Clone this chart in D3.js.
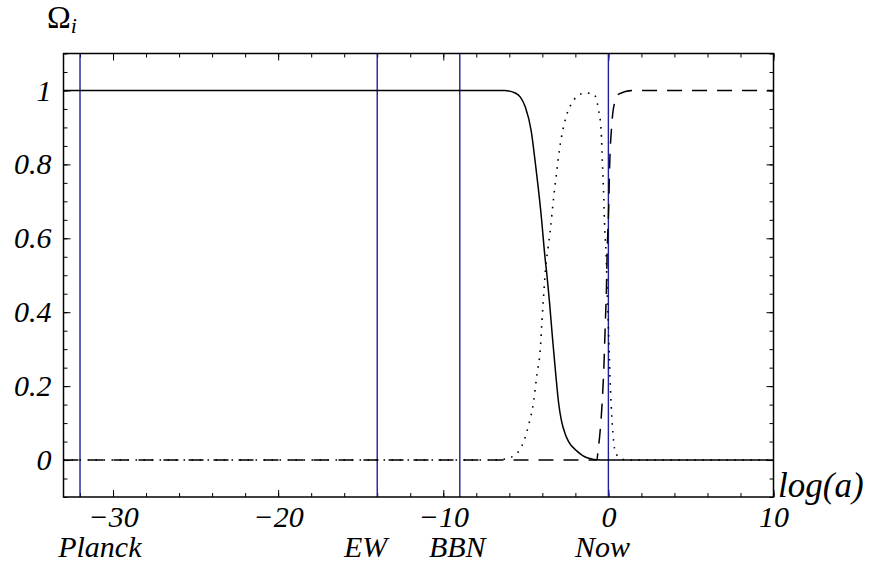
<!DOCTYPE html>
<html>
<head>
<meta charset="utf-8">
<script src="https://cdn.jsdelivr.net/npm/d3@7"></script>
<style>
  body { margin: 0; background: #fff; }
  svg text { font-family: "Liberation Serif", "Times New Roman", serif; font-style: italic; }
</style>
</head>
<body>
<svg id="chart" width="872" height="567"></svg>
<script>
// log(a) samples, one array per curve
var solidX  = [-33, -6.3, -5.64, -5.33, -5.03, -4.68, -4.42, -4.08, -3.82, -3.72, -3.56, -3.39, -3.21, -3.01, -2.85, -2.61, -2.41, -1.9, -1.29, -0.5, 10];
var solidY  = [1, 1, 0.993, 0.982, 0.955, 0.892, 0.802, 0.667, 0.54, 0.5, 0.424, 0.333, 0.243, 0.153, 0.108, 0.07, 0.05, 0.024, 0.006, 0, 0];

var dottedX = [-33, -6.8, -6.24, -5.64, -5.13, -4.83, -4.53, -4.32, -4.12, -4.02, -3.92, -3.8, -3.65, -3.52, -3.31, -3.11, -2.91, -2.67, -2.4, -2.2, -1.9, -1.39, -0.89, -0.59, -0.44, -0.36, -0.28, -0.22, -0.14, -0.08, 0.02, 0.12, 0.22, 0.42, 0.73, 1.2, 10];
var dottedY = [0, 0, 0.003, 0.014, 0.05, 0.095, 0.158, 0.234, 0.302, 0.378, 0.446, 0.52, 0.575, 0.622, 0.712, 0.788, 0.856, 0.91, 0.95, 0.966, 0.985, 0.993, 0.99, 0.946, 0.892, 0.802, 0.712, 0.622, 0.559, 0.468, 0.333, 0.198, 0.108, 0.022, 0.004, 0, 0];

var dashedX = [-33, -0.7, -0.62, -0.38, -0.28, -0.18, -0.12, -0.08, 0.02, 0.08, 0.18, 0.32, 0.62, 1.44, 10];
var dashedY = [0, 0, 0.027, 0.153, 0.243, 0.378, 0.459, 0.55, 0.685, 0.802, 0.892, 0.955, 0.99, 1, 1];

var epochNames = ["Planck", "EW", "BBN", "Now"];
var epochX     = [-32, -14, -9, 0];
var epochLabelX = [-30.8, -14.7, -9.15, -0.36];

var xMajor = [-30, -20, -10, 0, 10];
var yMajor = [0, 0.2, 0.4, 0.6, 0.8, 1];

var svg = d3.select("#chart");
var fLeft = 63.5, fRight = 773.5, fTop = 53.5, fBottom = 497;

var x = d3.scaleLinear().domain([-33, 10]).range([fLeft, fRight]);
var y = d3.scaleLinear().domain([-0.1, 1.1]).range([fBottom, fTop]);

var xMinor = d3.range(-32, 10.01, 2);
var yMinor = d3.range(-0.1, 1.101, 0.05).map(function(v) { return Math.round(v * 100) / 100; });

// ticks on all four sides, pointing inward
function styleAxis(g) {
    g.select(".domain").remove();
    g.selectAll("line").attr("stroke", "#000").attr("stroke-width", 1);
}
svg.append("g").attr("transform", "translate(0," + fBottom + ")")
    .call(d3.axisBottom(x).tickValues(xMinor).tickSize(-4).tickFormat(""))
    .call(styleAxis);
svg.append("g").attr("transform", "translate(0," + fTop + ")")
    .call(d3.axisTop(x).tickValues(xMinor).tickSize(-4).tickFormat(""))
    .call(styleAxis);
svg.append("g").attr("transform", "translate(" + fLeft + ",0)")
    .call(d3.axisLeft(y).tickValues(yMinor).tickSize(-4).tickFormat(""))
    .call(styleAxis);
svg.append("g").attr("transform", "translate(" + fRight + ",0)")
    .call(d3.axisRight(y).tickValues(yMinor).tickSize(-4).tickFormat(""))
    .call(styleAxis);

svg.append("g").attr("transform", "translate(0," + fBottom + ")")
    .call(d3.axisBottom(x).tickValues(xMajor).tickSize(-7).tickPadding(9).tickFormat(d3.format("d")))
    .call(styleAxis);
svg.append("g").attr("transform", "translate(0," + fTop + ")")
    .call(d3.axisTop(x).tickValues(xMajor).tickSize(-7).tickFormat(""))
    .call(styleAxis);
svg.append("g").attr("transform", "translate(" + fLeft + ",0)")
    .call(d3.axisLeft(y).tickValues(yMajor).tickSize(-7).tickPadding(12).tickFormat(function(d) { return String(d); }))
    .call(styleAxis);
svg.append("g").attr("transform", "translate(" + fRight + ",0)")
    .call(d3.axisRight(y).tickValues(yMajor).tickSize(-7).tickFormat(""))
    .call(styleAxis);

svg.selectAll(".tick text")
    .attr("fill", "#000")
    .style("font-size", "30px")
    .style("font-family", "Liberation Serif")
    .style("font-style", "italic");

svg.append("clipPath").attr("id", "clip")
    .append("rect").attr("x", fLeft).attr("y", fTop).attr("width", fRight - fLeft).attr("height", fBottom - fTop);

var plot = svg.append("g").attr("clip-path", "url(#clip)");

// epoch markers
plot.selectAll("line.epoch")
    .data(epochX)
    .join("line")
    .classed("epoch", true)
    .attr("x1", d => x(d)).attr("x2", d => x(d))
    .attr("y1", fTop).attr("y2", fBottom)
    .attr("stroke", "#1f1f99")
    .attr("stroke-width", 1.4);

var line = d3.line()
    .x(d => x(d[0]))
    .y(d => y(d[1]))
    .curve(d3.curveMonotoneX);

function pts(xs, ys) { return xs.map(function(v, i) { return [v, ys[i]]; }); }

plot.append("path")
    .datum(pts(dashedX, dashedY))
    .attr("d", line)
    .attr("fill", "none")
    .attr("stroke", "#000")
    .attr("stroke-width", 1.5)
    .attr("stroke-dasharray", "15,10");

plot.append("path")
    .datum(pts(dottedX, dottedY))
    .attr("d", line)
    .attr("fill", "none")
    .attr("stroke", "#000")
    .attr("stroke-width", 1.6)
    .attr("stroke-dasharray", "1.6,6.4");

plot.append("path")
    .datum(pts(solidX, solidY))
    .attr("d", line)
    .attr("fill", "none")
    .attr("stroke", "#000")
    .attr("stroke-width", 1.5);

// frame
svg.append("rect")
    .attr("x", fLeft).attr("y", fTop)
    .attr("width", fRight - fLeft).attr("height", fBottom - fTop)
    .attr("fill", "none")
    .attr("stroke", "#000")
    .attr("stroke-width", 1.5);

// epoch names under the axis
svg.selectAll("text.epoch")
    .data(epochNames)
    .join("text")
    .classed("epoch", true)
    .attr("x", (d, i) => x(epochLabelX[i]))
    .attr("y", 557)
    .attr("text-anchor", "middle")
    .style("font-size", "30px")
    .text(d => d);

svg.append("text")
    .attr("x", 778)
    .attr("y", 497)
    .style("font-size", "35px")
    .text("log(a)");

var om = svg.append("text")
    .attr("x", 47)
    .attr("y", 28)
    .style("font-size", "32px")
    .style("font-style", "normal");
om.append("tspan").text("Ω");
om.append("tspan").attr("dy", 5).style("font-style", "italic").style("font-size", "22px").text("i");
</script>
</body>
</html>
